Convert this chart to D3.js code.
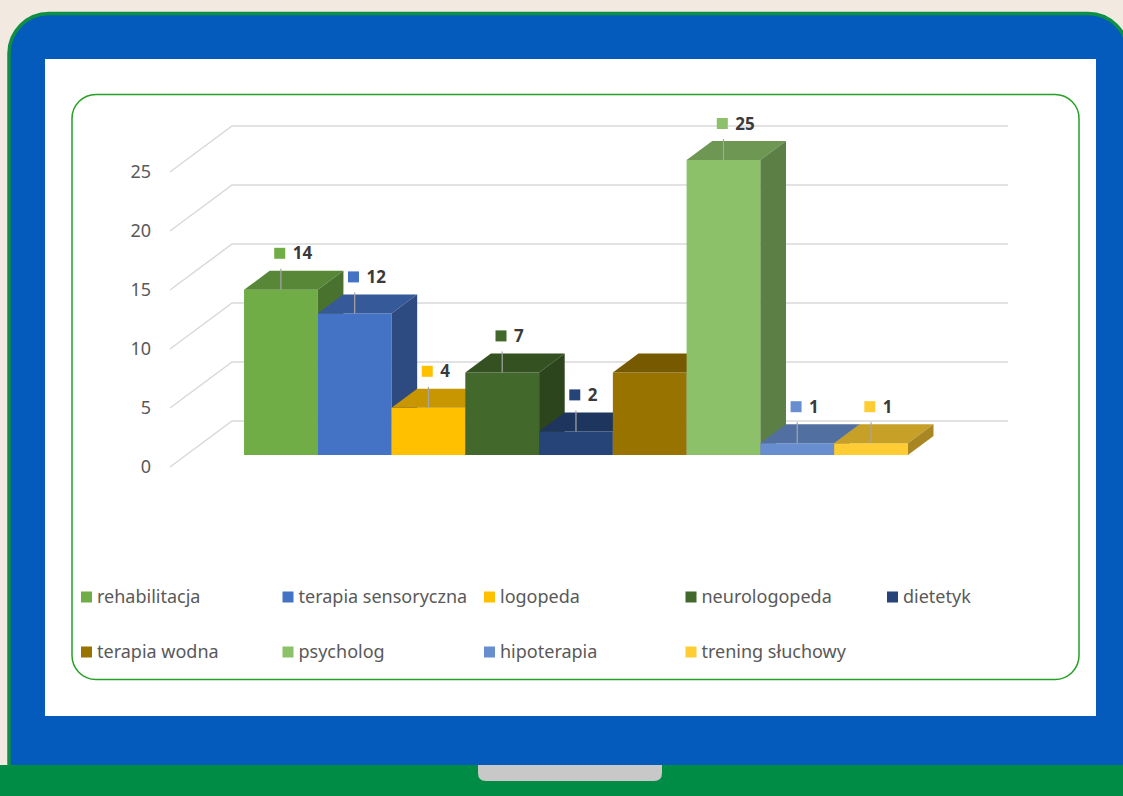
<!DOCTYPE html>
<html>
<head>
<meta charset="utf-8">
<script src="https://cdn.jsdelivr.net/npm/d3@7/dist/d3.min.js"></script>
<style>
  html, body { margin: 0; padding: 0; background: #f2e9e1; }
  svg { display: block; font-family: "Noto Sans", sans-serif; }
</style>
</head>
<body>
<div id="chart"></div>
<script>
const categories = ["rehabilitacja", "terapia sensoryczna", "logopeda", "neurologopeda", "dietetyk",
  "terapia wodna", "psycholog", "hipoterapia", "trening słuchowy"];
const values = [14, 12, 4, 7, 2, 7, 25, 1, 1];
const colors = ["#70AD47", "#4472C4", "#FFC000", "#43682B", "#264478",
  "#997300", "#8CC169", "#698ED0", "#FFCD33"];
// terapia wodna has no data label in the original
const labelled = [true, true, true, true, true, false, true, true, true];
const yTicks = [0, 5, 10, 15, 20, 25];

const width = 1123;
const height = 796;

const svg = d3.select("#chart").append("svg")
  .attr("width", width)
  .attr("height", height)
  .attr("viewBox", [0, 0, width, height]);

// laptop frame
svg.append("rect").attr("x", 0).attr("y", 0).attr("width", width).attr("height", height).attr("fill", "#f2e9e1");
svg.append("rect")
  .attr("x", 9).attr("y", 13.5).attr("width", 1119).attr("height", 790)
  .attr("rx", 40)
  .attr("fill", "#055bbb").attr("stroke", "#0f8f43").attr("stroke-width", 3.5);
svg.append("rect").attr("x", 45).attr("y", 59).attr("width", 1051).attr("height", 657).attr("fill", "#fff");
svg.append("rect").attr("x", 0).attr("y", 765).attr("width", width).attr("height", 31).attr("fill", "#008c44");
svg.append("path")
  .attr("d", "M478,765 H662 V773 Q662,781 654,781 H486 Q478,781 478,773 Z")
  .attr("fill", "#c8c8c8");

// chart area border
svg.append("rect")
  .attr("x", 72).attr("y", 94.5).attr("width", 1007).attr("height", 585)
  .attr("rx", 24)
  .attr("fill", "none").attr("stroke", "#24a024").attr("stroke-width", 1.5);

// scales, front edge of the floor
const x = d3.scaleBand()
  .domain(categories)
  .range([170, 946])
  .paddingInner(0)
  .paddingOuter(0.76)
  .align(0.516);

const y = d3.scaleLinear()
  .domain([0, 25])
  .range([467, 172]);

// depth in pixels going back from the floor front
const barFront = 12, barBack = 31, wall = 46;
const slant = 1.348;
function P(px, v, k) {
  return [px + k * slant, y(v) - k];
}
const poly = pts => "M" + pts.map(p => p.join(",")).join("L") + "Z";

// gridlines: side wall diagonal + back wall
const grid = svg.append("g");
yTicks.forEach(v => {
  const a = P(x.range()[0], v, 0), b = P(x.range()[0], v, wall), c = P(x.range()[1], v, wall);
  grid.append("path")
    .attr("d", `M${a}L${b}L${c}`)
    .attr("fill", "none")
    .attr("stroke", "#d9d9d9")
    .attr("stroke-width", 1.5);
});

svg.append("g")
  .selectAll("text")
  .data(yTicks)
  .join("text")
  .attr("x", x.range()[0] - 19)
  .attr("y", d => y(d))
  .attr("dy", "0.35em")
  .attr("text-anchor", "end")
  .attr("fill", "#595959")
  .style("font-size", "18px")
  .text(d => d);

// bars
const bars = svg.append("g");
categories.forEach((c, i) => {
  const v = values[i];
  const x0 = x(c), x1 = x0 + x.bandwidth();
  const base = d3.rgb(colors[i]);
  const shade = f => d3.rgb(base.r * f, base.g * f, base.b * f).formatHex();
  bars.append("path")
    .attr("d", poly([P(x0, 0, barFront), P(x1, 0, barFront), P(x1, v, barFront), P(x0, v, barFront)]))
    .attr("fill", colors[i]);
  bars.append("path")
    .attr("d", poly([P(x0, v, barFront), P(x1, v, barFront), P(x1, v, barBack), P(x0, v, barBack)]))
    .attr("fill", shade(0.78));
  bars.append("path")
    .attr("d", poly([P(x1, 0, barFront), P(x1, 0, barBack), P(x1, v, barBack), P(x1, v, barFront)]))
    .attr("fill", shade(0.66));
});

// data labels
const labels = svg.append("g");
categories.forEach((c, i) => {
  if (!labelled[i]) return;
  const v = values[i];
  const cx = x(c) + x.bandwidth() / 2;
  const top = P(cx, v, barFront);
  const mid = P(cx, v, (barFront + barBack) / 2);
  labels.append("line")
    .attr("x1", top[0]).attr("y1", top[1])
    .attr("x2", top[0]).attr("y2", top[1] - 21)
    .attr("stroke", "#a6a6a6").attr("stroke-width", 1.2);
  const mx = mid[0] - 14, my = mid[1] - 27;
  labels.append("rect")
    .attr("x", mx - 5.5).attr("y", my - 5.5)
    .attr("width", 11).attr("height", 11)
    .attr("fill", colors[i]);
  labels.append("text")
    .attr("x", mx + 13).attr("y", my)
    .attr("dy", "0.36em")
    .attr("fill", "#3a3a3a")
    .style("font-size", "17px")
    .style("font-weight", "bold")
    .text(v);
});

// legend
const legend = svg.append("g");
categories.forEach((c, i) => {
  const col = i % 5, row = Math.floor(i / 5);
  const lx = 81 + col * 201.5, ly = 597 + row * 55;
  legend.append("rect")
    .attr("x", lx).attr("y", ly - 5.5)
    .attr("width", 11).attr("height", 11)
    .attr("fill", colors[i]);
  legend.append("text")
    .attr("x", lx + 16).attr("y", ly)
    .attr("dy", "0.33em")
    .attr("fill", "#595959")
    .style("font-size", "18px")
    .text(c);
});
</script>
</body>
</html>
